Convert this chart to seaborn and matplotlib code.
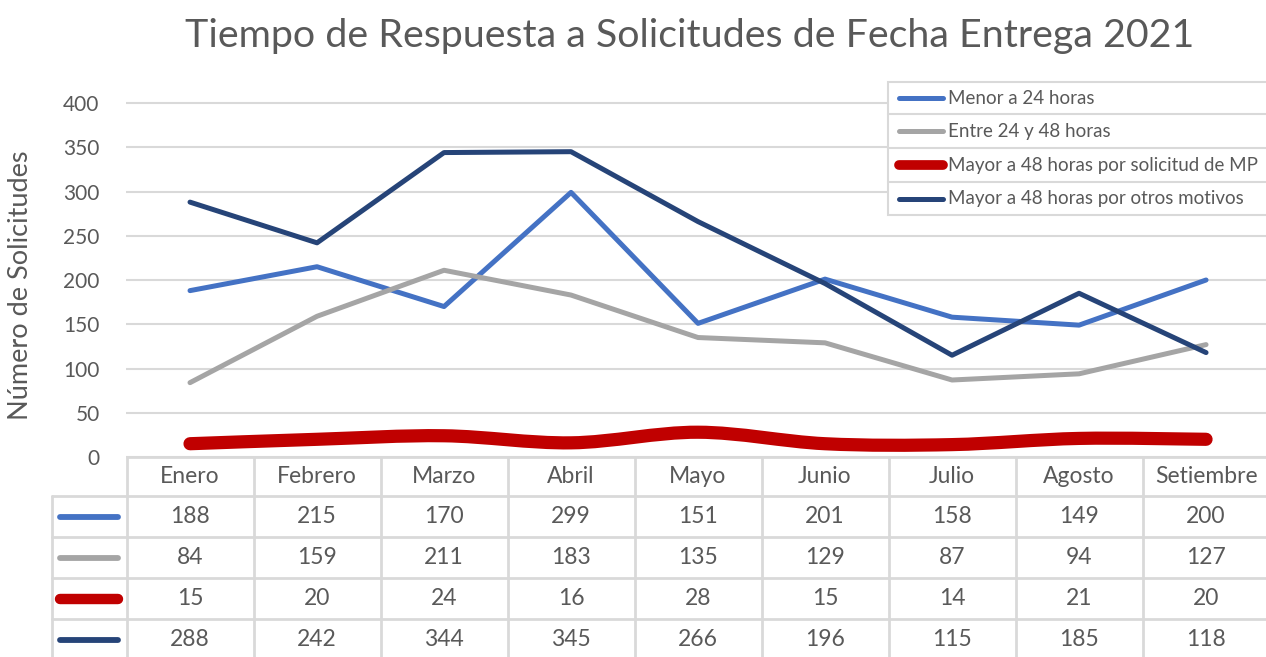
import numpy as np
import pandas as pd
import matplotlib
matplotlib.use("Agg")
import matplotlib.pyplot as plt
from matplotlib.path import Path
from matplotlib.patches import PathPatch, Rectangle
from matplotlib.lines import Line2D
import seaborn as sns

# ---- data -------------------------------------------------------------
meses = ["Enero", "Febrero", "Marzo", "Abril", "Mayo", "Junio", "Julio", "Agosto", "Setiembre"]
menor_24 = [188, 215, 170, 299, 151, 201, 158, 149, 200]
entre_24_48 = [84, 159, 211, 183, 135, 129, 87, 94, 127]
mayor_48_mp = [15, 20, 24, 16, 28, 15, 14, 21, 20]
mayor_48_otros = [288, 242, 344, 345, 266, 196, 115, 185, 118]

series_names = ["Menor a 24 horas", "Entre 24 y 48 horas",
                "Mayor a 48 horas por solicitud de MP", "Mayor a 48 horas por otros motivos"]
series_values = [menor_24, entre_24_48, mayor_48_mp, mayor_48_otros]
series_colors = ["#4472C4", "#A5A5A5", "#C00000", "#264478"]
series_widths = [3.6, 3.6, 9.5, 3.6]

y_ticks = [0, 50, 100, 150, 200, 250, 300, 350, 400]

# ---- style ------------------------------------------------------------
sns.set_theme(style="white")
plt.rcParams["font.family"] = ["Lato", "DejaVu Sans"]
TXT = "#595959"
GRID = "#D9D9D9"

W, H = 1266, 657
fig = plt.figure(figsize=(W / 100, H / 100), dpi=100)


def fx(px):
    return px / W


def fy(py):
    return 1 - py / H


# main plotting area
x_left, x_right = -0.504, 8.472
ax = fig.add_axes([fx(126), fy(457), fx(1266 - 126), (457 - 80) / H])
ax.set_xlim(x_left, x_right)
ax.set_ylim(0, 426)

df = pd.DataFrame({"mes": meses * 4,
                   "serie": sum([[n] * len(meses) for n in series_names], []),
                   "valor": sum(series_values, [])})
df["pos"] = df["mes"].map({m: i for i, m in enumerate(meses)})

for name, vals, col, lw in zip(series_names, series_values, series_colors, series_widths):
    if name == series_names[2]:
        # smoothed thick line (cubic Bezier through the monthly values)
        pts = np.column_stack([np.arange(len(vals)), np.asarray(vals, float)])
        ext = np.vstack([pts[0], pts, pts[-1]])
        verts = [tuple(pts[0])]
        codes = [Path.MOVETO]
        for i in range(len(pts) - 1):
            p0, p1, p2, p3 = ext[i], ext[i + 1], ext[i + 2], ext[i + 3]
            c1 = p1 + (p2 - p0) / 6
            c2 = p2 - (p3 - p1) / 6
            verts += [tuple(c1), tuple(c2), tuple(p2)]
            codes += [Path.CURVE4] * 3
        patch = PathPatch(Path(verts, codes), fill=False, edgecolor=col, lw=lw,
                          capstyle="round", joinstyle="round", zorder=3)
        ax.add_patch(patch)
    else:
        sub = df[df["serie"] == name]
        sns.lineplot(data=sub, x="pos", y="valor", ax=ax, color=col, linewidth=lw,
                     sort=False, legend=False, zorder=3 if name != series_names[3] else 4,
                     solid_capstyle="round", solid_joinstyle="round")

ax.set_xlabel("")
ax.set_xticks([])
ax.set_yticks(y_ticks)
ax.set_yticklabels([str(t) for t in y_ticks], color=TXT, fontsize=15)
ax.tick_params(axis="y", length=0, pad=19)
ax.yaxis.grid(True, color=GRID, linewidth=1.5)
ax.set_axisbelow(True)
for s in ax.spines.values():
    s.set_visible(False)
ax.set_ylabel("Número de Solicitudes", color=TXT, fontsize=19.5)
ax.yaxis.set_label_coords(-0.0815, 0.455)

# title
fig.text(fx(690), fy(36), "Tiempo de Respuesta a Solicitudes de Fecha Entrega 2021",
         ha="center", va="center", fontsize=28.4, color=TXT)

# ---- legend box -------------------------------------------------------
lg_left, lg_right = 888, 1280
row_edges = [82, 114, 148, 182, 215]
fig.add_artist(Rectangle((fx(lg_left), fy(row_edges[-1])), fx(lg_right - lg_left),
                         (row_edges[-1] - row_edges[0]) / H, transform=fig.transFigure,
                         facecolor="white", edgecolor=GRID, lw=1.5, zorder=10))
for yy in row_edges[1:-1]:
    fig.add_artist(Line2D([fx(lg_left), fx(lg_right)], [fy(yy), fy(yy)],
                          transform=fig.transFigure, color=GRID, lw=1.5, zorder=11))
for i, (name, col) in enumerate(zip(series_names, series_colors)):
    yc = (row_edges[i] + row_edges[i + 1]) / 2
    lw = 7 if i == 2 else 3.6
    fig.add_artist(Line2D([fx(899), fx(943)], [fy(yc), fy(yc)], transform=fig.transFigure,
                          color=col, lw=lw, solid_capstyle="round", zorder=12))
    fig.text(fx(948), fy(yc), name, ha="left", va="center", fontsize=13.5, color=TXT, zorder=12)

# ---- data table -------------------------------------------------------
tb_left_px = 52
tx_left = x_left - (126 - tb_left_px) / 127
tab = fig.add_axes([fx(tb_left_px), 0, fx(1266 - tb_left_px), 200 / H])
tab.set_xlim(tx_left, x_right)
tab.set_ylim(200, 0)
tab.axis("off")

h_lines = [0, 39, 80, 121, 162]
tab.plot([-0.5, x_right], [0, 0], color=GRID, lw=2, clip_on=False)
for yy in h_lines[1:]:
    tab.plot([tx_left, x_right], [yy, yy], color=GRID, lw=2, clip_on=False)
for k in range(len(meses) + 1):
    xv = -0.5 + k
    tab.plot([xv, xv], [0, 200], color=GRID, lw=2, clip_on=False)
tab.plot([tx_left, tx_left], [39, 200], color=GRID, lw=2, clip_on=False)

for i, m in enumerate(meses):
    tab.text(i, 19.5, m, ha="center", va="center", fontsize=16.5, color=TXT)
row_centers = [(h_lines[j] + h_lines[j + 1]) / 2 if j + 1 < len(h_lines) else h_lines[j] + 20.5
               for j in range(1, len(h_lines))]
for r, (vals, col) in enumerate(zip(series_values, series_colors)):
    yc = row_centers[r]
    lw = 7.5 if r == 2 else 4.2
    tab.plot([(60 - 190) / 127, (118 - 190) / 127], [yc, yc], color=col, lw=lw,
             solid_capstyle="round")
    for i, v in enumerate(vals):
        tab.text(i, yc, str(v), ha="center", va="center", fontsize=16.5, color=TXT)

fig.savefig("out.png", dpi=100, facecolor="white")
